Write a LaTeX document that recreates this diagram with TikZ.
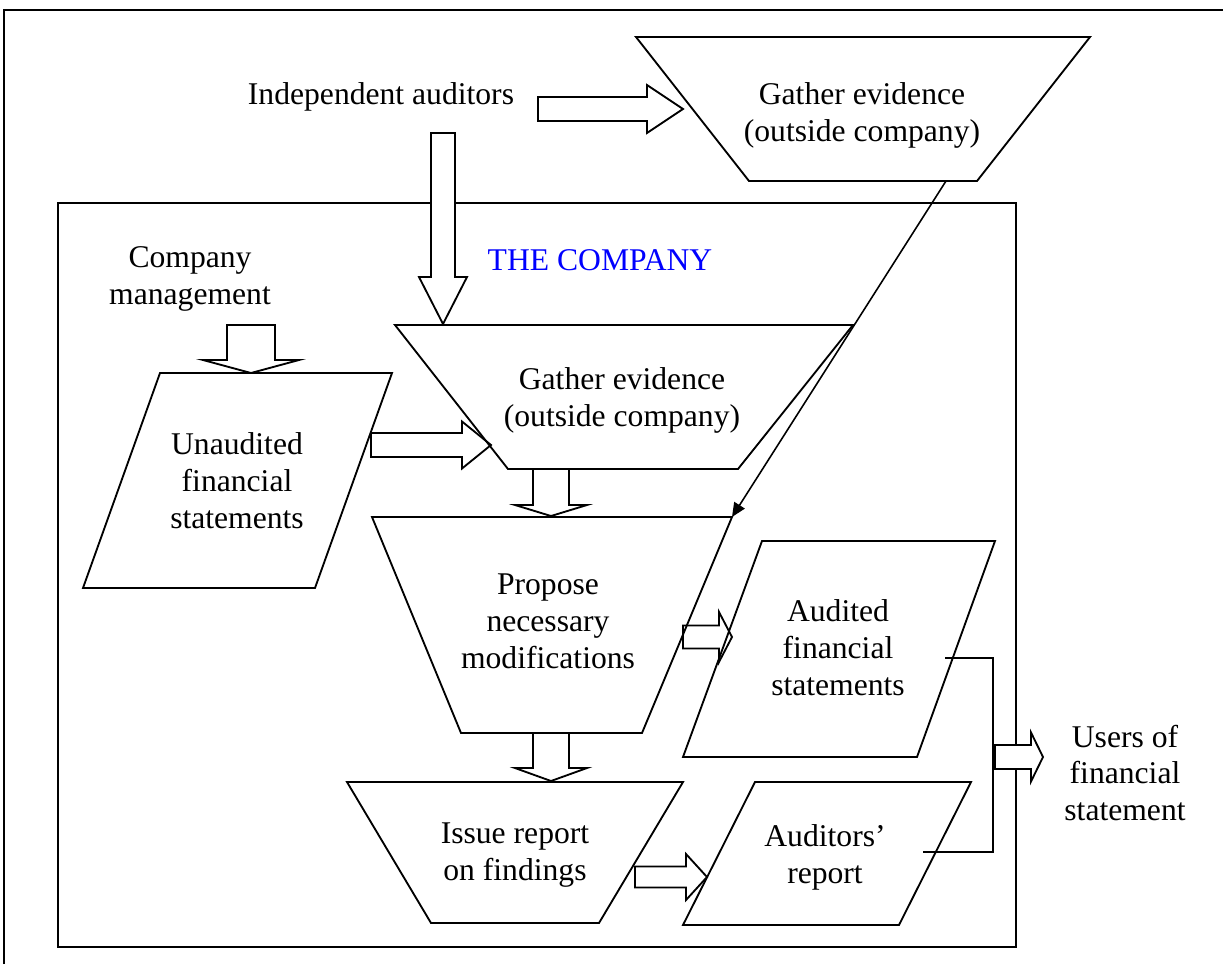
\documentclass[tikz,border=0pt]{standalone}
\usepackage{fontspec}
\setmainfont{Liberation Serif}
\usetikzlibrary{arrows.meta,calc}

\def\pxu{0.5690551pt}
% hollow block arrows: start, tip, shaft half width, head half width, head length
\newcommand{\rightblock}[5]{%
	\draw[block] let \p1=(#1), \p2=(#2) in
		(\x1,\y2+#3*\pxu) -- (\x2-#5*\pxu,\y2+#3*\pxu) -- (\x2-#5*\pxu,\y2+#4*\pxu) -- (\x2,\y2)
		-- (\x2-#5*\pxu,\y2-#4*\pxu) -- (\x2-#5*\pxu,\y2-#3*\pxu) -- (\x1,\y2-#3*\pxu) -- cycle;}
\newcommand{\downblock}[5]{%
	\draw[block] let \p1=(#1), \p2=(#2) in
		(\x2-#3*\pxu,\y1) -- (\x2-#3*\pxu,\y2+#5*\pxu) -- (\x2-#4*\pxu,\y2+#5*\pxu) -- (\x2,\y2)
		-- (\x2+#4*\pxu,\y2+#5*\pxu) -- (\x2+#3*\pxu,\y2+#5*\pxu) -- (\x2+#3*\pxu,\y1) -- cycle;}

\begin{document}
\begin{tikzpicture}[x=0.02cm, y=-0.02cm, line width=1.05pt, line join=miter,
	font=\fontsize{18}{21}\selectfont,
	block/.style={draw, fill=white, line width=1.05pt},
	lbl/.style={align=center, inner sep=0pt}]
	\useasboundingbox (0,0) rectangle (1223,964);
	% frame and the company
	\draw (4,964) -- (4,10) -- (1223,10);
	\draw (58,203) rectangle (1016,947);
	% arrow ends
	\coordinate (ia-s) at (538,109);  \coordinate (ia-t) at (683,109);
	\coordinate (id-s) at (443,133);  \coordinate (id-t) at (443,324);
	\coordinate (cm-s) at (251,325);  \coordinate (cm-t) at (251,373);
	\coordinate (un-s) at (371,445);  \coordinate (un-t) at (491,445);
	\coordinate (ge-s) at (551,469);  \coordinate (ge-t) at (551,516);
	\coordinate (pr-s) at (551,733);  \coordinate (pr-t) at (551,781);
	\coordinate (pa-s) at (683,637);  \coordinate (pa-t) at (732,637);
	\coordinate (ir-s) at (635,877);  \coordinate (ir-t) at (707,877);
	\coordinate (us-s) at (995,757);  \coordinate (us-t) at (1043,757);
	\rightblock{ia-s}{ia-t}{12}{24}{36}
	\downblock{id-s}{id-t}{12}{24}{47}
	\downblock{cm-s}{cm-t}{24}{48}{13}
	\rightblock{un-s}{un-t}{12}{23.5}{29}
	\downblock{ge-s}{ge-t}{18}{36}{11}
	\downblock{pr-s}{pr-t}{18}{36}{13}
	\rightblock{pa-s}{pa-t}{11.5}{25}{13}
	\rightblock{ir-s}{ir-t}{10.5}{23}{21}
	\rightblock{us-s}{us-t}{12}{24.5}{12}
	% steps (trapezia) and documents (parallelograms)
	\draw (636,37) -- (1090,37) -- (977,181) -- (749,181) -- cycle;
	\draw (395,325) -- (853,325) -- (738,469) -- (508,469) -- cycle;
	\draw (372,517) -- (732,517) -- (642,733) -- (461,733) -- cycle;
	\draw (347,782) -- (683,782) -- (599,923) -- (431,923) -- cycle;
	\draw (160,373) -- (392,373) -- (315,588) -- (83,588) -- cycle;
	\draw (762,541) -- (995,541) -- (917,757) -- (683,757) -- cycle;
	\draw (755,782) -- (971,782) -- (899,925) -- (683,925) -- cycle;
	% outside evidence goes into the proposal
	\coordinate (go-b) at (946,181);
	\coordinate (pr-tr) at (732,517);
	\draw[line width=0.9pt, -{Triangle[length=8pt,width=7pt]}] (go-b) -- (pr-tr);
	% both documents to the users
	\coordinate (au-r) at (945,658);
	\coordinate (rp-r) at (923,852);
	\draw (au-r) -- (993,658) -- (993,852) -- (rp-r);
	% labels
	\node[lbl] (indep) at (381,97) {Independent auditors};
	\node[lbl] (gatherout) at (862,115) {Gather evidence\\(outside company)};
	\node[lbl, text=blue] (thecomp) at (600,260) {THE COMPANY};
	\node[lbl] (mgmt) at (190,279) {Company\\management};
	\node[lbl] (unaudited) at (237,481) {Unaudited\\financial\\statements};
	\node[lbl] (gatherin) at (622,400) {Gather evidence\\(outside company)};
	\node[lbl] (propose) at (548,621) {Propose\\necessary\\modifications};
	\node[lbl] (issue) at (515,855) {Issue report\\on findings};
	\node[lbl] (audited) at (838,648) {Audited\\financial\\statements};
	\node[lbl] (report) at (825,857) {Auditors'\\report};
	\node[lbl] (users) at (1125,773) {Users of\\financial\\statement};
\end{tikzpicture}
\end{document}
